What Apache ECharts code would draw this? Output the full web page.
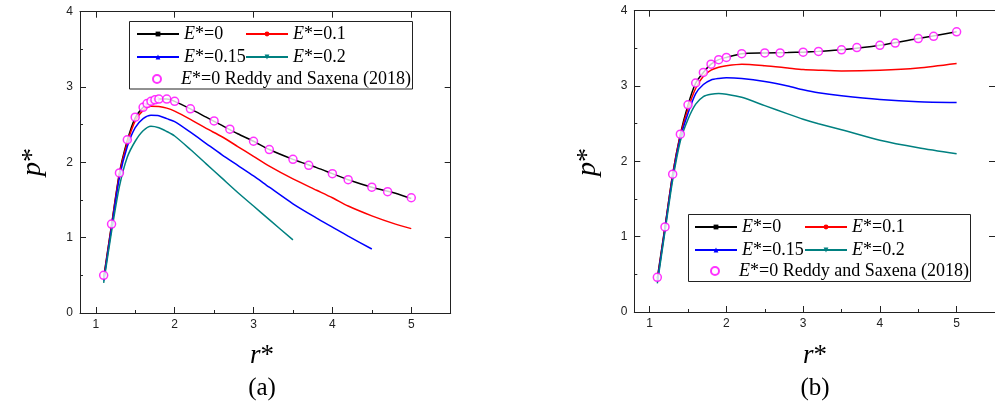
<!DOCTYPE html>
<html><head><meta charset="utf-8">
<script src="https://cdn.jsdelivr.net/npm/echarts@6/dist/echarts.min.js"></script>
<style>html,body{margin:0;padding:0;background:#fff}#c{width:995px;height:404px}</style>
</head><body><div id="c"></div>
<script>
// ---------- Panel (a) ----------
const rA = [1.1,1.2,1.3,1.4,1.5,1.6,1.7,1.8,1.9,2.0,2.2,2.4,2.6,2.8,3.0,3.2,3.5,3.8,4.0,4.2,4.5,4.8,5.0];
const pA_E0   = [0.47,1.17,1.86,2.29,2.59,2.73,2.81,2.84,2.84,2.81,2.71,2.60,2.49,2.38,2.28,2.17,2.04,1.93,1.85,1.77,1.67,1.59,1.52];
const pA_E01  = [0.45,1.16,1.84,2.26,2.55,2.69,2.745,2.74,2.72,2.68,2.57,2.45,2.34,2.21,2.08,1.95,1.78,1.63,1.53,1.42,1.29,1.18,1.12];
const pA_E015 = [0.43,1.13,1.80,2.21,2.46,2.58,2.625,2.62,2.58,2.54,2.40,2.25,2.10,1.96,1.82,1.67,1.45,1.26,1.14,1.02,0.85];
const pA_E02  = [0.40,1.08,1.68,2.07,2.28,2.42,2.48,2.46,2.41,2.35,2.17,1.98,1.79,1.60,1.42,1.24,0.97];
const rA_ref  = [1.1,1.2,1.3,1.4,1.5,1.6,1.65,1.7,1.75,1.8,1.9,2.0,2.2,2.5,2.7,3.0,3.2,3.5,3.7,4.0,4.2,4.5,4.7,5.0];
const pA_ref  = [0.50,1.18,1.86,2.30,2.60,2.73,2.78,2.81,2.83,2.84,2.84,2.81,2.71,2.55,2.44,2.28,2.17,2.04,1.96,1.85,1.77,1.67,1.61,1.53];

// ---------- Panel (b) ----------
const rB = [1.1,1.2,1.3,1.4,1.5,1.6,1.7,1.8,1.9,2.0,2.2,2.5,2.8,3.0,3.2,3.5,4.0,4.5,5.0];
const pB_E0   = [0.45,1.13,1.83,2.36,2.75,3.04,3.18,3.29,3.35,3.38,3.43,3.44,3.445,3.45,3.46,3.48,3.54,3.63,3.72];
const pB_E01  = [0.43,1.12,1.82,2.34,2.70,2.97,3.13,3.21,3.25,3.27,3.29,3.27,3.24,3.22,3.21,3.20,3.21,3.24,3.30];
const pB_E015 = [0.41,1.10,1.79,2.31,2.64,2.90,3.02,3.08,3.10,3.11,3.10,3.06,3.00,2.95,2.91,2.87,2.82,2.79,2.78];
const pB_E02  = [0.38,1.07,1.75,2.27,2.56,2.76,2.86,2.89,2.90,2.89,2.85,2.74,2.63,2.56,2.50,2.42,2.28,2.18,2.10];
const rB_ref  = [1.1,1.2,1.3,1.4,1.5,1.6,1.7,1.8,1.9,2.0,2.2,2.5,2.7,3.0,3.2,3.5,3.7,4.0,4.2,4.5,4.7,5.0];
const pB_ref  = [0.46,1.13,1.83,2.36,2.75,3.04,3.18,3.29,3.35,3.38,3.43,3.44,3.44,3.45,3.46,3.48,3.51,3.54,3.57,3.63,3.66,3.72];

// ---------- axis ticks / labels ----------
const xMajor = [1,2,3,4,5];
const xMinor = [1.5,2.5,3.5,4.5,5.5];
const seriesLabels = ['{i|E}*=0','{i|E}*=0.1','{i|E}*=0.15','{i|E}*=0.2','{i|E}*=0 Reddy and Saxena (2018)'];

const colors = ['#000000','#ff0000','#0000ff','#008080','#ff00ff'];
const symbols = ['rect','circle','triangle','path://M0,0 L10,0 L5,10 Z'];
const AX = '#222';
const SERIF = 'Liberation Serif, Times New Roman, serif';
const SANS = 'Liberation Sans, Arial, sans-serif';

const pairs = (xs, ys) => ys.map((y, i) => [xs[i], y]);

const grids = [
  {left: 80, top: 11.7, width: 370.7, height: 301.3},
  {left: 634.3, top: 10.7, width: 371, height: 301.3}
];

const xAxes = [], yAxes = [];
grids.forEach((g, gi) => {
  const base = {type: 'value', gridIndex: gi, min: 0.8, max: 5.5, splitLine: {show: false}};
  xAxes.push(Object.assign({}, base, {
    position: 'bottom',
    axisLine: {show: true, onZero: false, lineStyle: {color: AX, width: 1}},
    axisTick: {show: true, inside: true, length: 6, customValues: xMajor, lineStyle: {color: AX}},
    axisLabel: {show: true, customValues: xMajor, fontFamily: SANS, fontSize: 12, color: AX, margin: 6}
  }));
  xAxes.push(Object.assign({}, base, {
    position: 'bottom',
    axisLine: {show: false, onZero: false},
    axisTick: {show: true, inside: true, length: 3, customValues: xMinor, lineStyle: {color: AX}},
    axisLabel: {show: false}
  }));
  xAxes.push(Object.assign({}, base, {
    position: 'top',
    axisLine: {show: true, onZero: false, lineStyle: {color: AX, width: 1}},
    axisTick: {show: true, inside: true, length: 6, customValues: xMajor, lineStyle: {color: AX}},
    axisLabel: {show: false}
  }));
  yAxes.push({
    type: 'value', gridIndex: gi, min: 0, max: 4, interval: 1, position: 'left',
    splitLine: {show: false},
    axisLine: {show: true, onZero: false, lineStyle: {color: AX, width: 1}},
    axisTick: {show: true, inside: true, length: 6, lineStyle: {color: AX}},
    minorTick: {show: true, splitNumber: 2, length: 3, lineStyle: {color: AX}},
    axisLabel: {fontFamily: SANS, fontSize: 12, color: AX, margin: 7}
  });
  yAxes.push({
    type: 'value', gridIndex: gi, min: 0, max: 4, interval: 1, position: 'right',
    splitLine: {show: false},
    axisLine: {show: true, onZero: false, lineStyle: {color: AX, width: 1}},
    axisTick: {show: true, inside: true, length: 6, lineStyle: {color: AX}},
    axisLabel: {show: false}
  });
});

const panelData = [
  {xs: rA, lines: [pA_E0, pA_E01, pA_E015, pA_E02], rx: rA_ref, ry: pA_ref},
  {xs: rB, lines: [pB_E0, pB_E01, pB_E015, pB_E02], rx: rB_ref, ry: pB_ref}
];

const series = [];
panelData.forEach((pd, gi) => {
  pd.lines.forEach((ys, k) => {
    series.push({
      name: 'p' + gi + 's' + k, type: 'line', xAxisIndex: gi * 3, yAxisIndex: gi * 2,
      data: pairs(pd.xs, ys), smooth: 0.25,
      symbol: symbols[k], symbolSize: 5, showSymbol: false,
      lineStyle: {color: colors[k], width: 1.5}, itemStyle: {color: colors[k]},
      z: 2 + k * 0.1, silent: true, animation: false
    });
  });
  series.push({
    name: 'p' + gi + 'ref', type: 'scatter', xAxisIndex: gi * 3, yAxisIndex: gi * 2,
    data: pairs(pd.rx, pd.ry), symbol: 'circle', symbolSize: 8,
    itemStyle: {color: '#ffffff', borderColor: colors[4], borderWidth: 1.5},
    z: 5, silent: true, animation: false
  });
});

// legend layout (icon left, row top)
const legendPos = [
  // panel a
  [[136, 24], [245, 24], [136, 47], [245, 47], [152, 69]],
  // panel b
  [[694, 217], [804, 217], [694, 240], [804, 240], [710, 261]]
];
const legends = [];
legendPos.forEach((rows, gi) => {
  rows.forEach((pos, k) => {
    const name = k < 4 ? 'p' + gi + 's' + k : 'p' + gi + 'ref';
    const isRef = k === 4;
    legends.push({
      data: [name], left: pos[0], top: pos[1], padding: 0,
      itemWidth: isRef ? 8 : 42, itemHeight: isRef ? 8 : 6, itemGap: 0, selectedMode: false,
      formatter: seriesLabels[k],
      textStyle: {fontFamily: SERIF, fontSize: 18, color: '#000', lineHeight: 20,
        padding: isRef ? [0, 0, 0, 15] : 0,
        rich: {i: {fontFamily: SERIF, fontSize: 18, fontStyle: 'italic', color: '#000', lineHeight: 20}}}
    });
  });
});

const txt = (text, x, y, size, rot) => ({
  type: 'text', x: x, y: y, rotation: rot || 0, silent: true,
  style: {text: text, fontFamily: SERIF, fontSize: size, fill: '#000', align: 'center', verticalAlign: 'middle',
    rich: {i: {fontFamily: SERIF, fontSize: size, fontStyle: 'italic', fill: '#000'}}}
});

const graphic = [
  {type: 'rect', shape: {x: 129.5, y: 21.5, width: 283, height: 67.5}, style: {fill: 'none', stroke: AX, lineWidth: 1}, silent: true, z: 10},
  {type: 'rect', shape: {x: 688.5, y: 214.5, width: 282, height: 67}, style: {fill: 'none', stroke: AX, lineWidth: 1}, silent: true, z: 10},
  txt('{i|r}*', 262, 356, 27),
  txt('{i|r}*', 815, 356, 27),
  txt('(a)', 262, 388, 25),
  txt('(b)', 815, 388, 25),
  txt('{i|p}*', 33, 162, 28, Math.PI / 2),
  txt('{i|p}*', 588, 162, 28, Math.PI / 2)
];

const chart = echarts.init(document.getElementById('c'), null, {renderer: 'canvas'});
chart.setOption({
  animation: false,
  backgroundColor: '#fff',
  grid: grids,
  xAxis: xAxes,
  yAxis: yAxes,
  legend: legends,
  series: series,
  graphic: graphic
});
</script>
</body></html>
